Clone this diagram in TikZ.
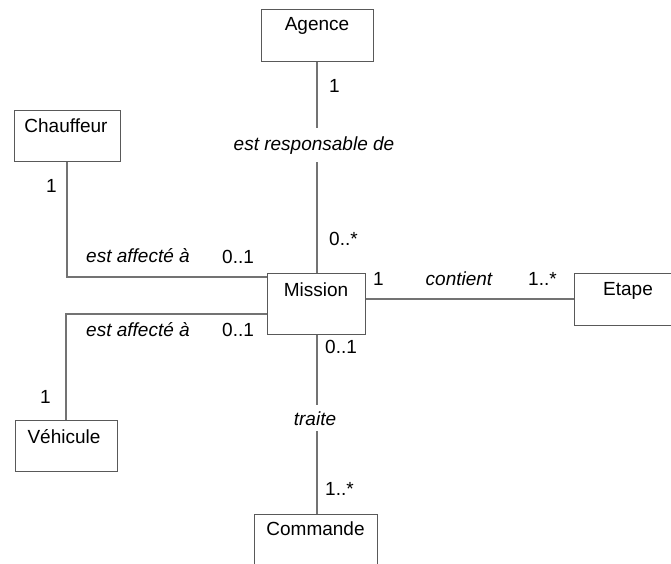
\documentclass[tikz,border=0pt]{standalone}
\usepackage{fontspec}
\setmainfont{Liberation Sans}
\begin{document}
\begin{tikzpicture}[x=1pt, y=-1pt,
  classbox/.style={draw=black!65, line width=1pt, fill=white, inner sep=0pt},
  classname/.style={anchor=base, inner sep=0pt, font=\fontsize{19}{22}\selectfont},
  assoc/.style={draw=black!55, line width=1.1pt},
  mult/.style={anchor=base west, inner sep=0pt, font=\fontsize{19}{22}\selectfont},
  role/.style={anchor=base, fill=white, inner sep=0pt, outer sep=0pt,
    font=\fontsize{19}{22}\selectfont\itshape},
  rolegap/.style={role, inner ysep=6pt, inner xsep=2pt}]
  \useasboundingbox (0,0) rectangle (671,564);

  % class boxes (empty attribute compartments)
  \node[classbox, minimum width=112pt, minimum height=52pt] (agence) at (317,36) {};
  \node[classbox, minimum width=106pt, minimum height=51pt] (chauffeur) at (67,136.5) {};
  \node[classbox, minimum width=98pt, minimum height=61pt] (mission) at (316,303.5) {};
  \node[classbox, minimum width=108pt, minimum height=52pt] (etape) at (628,299) {};
  \node[classbox, minimum width=102pt, minimum height=51pt] (vehicule) at (66,445.5) {};
  \node[classbox, minimum width=123pt, minimum height=66pt] (commande) at (315.5,547) {};

  % class names
  \node[classname] (agence-n) at (317,31) {Agence};
  \node[classname] (chauffeur-n) at (66,133) {Chauffeur};
  \node[classname] (mission-n) at (316,296) {Mission};
  \node[classname] (etape-n) at (628,295) {Etape};
  \node[classname] (vehicule-n) at (64,443) {Véhicule};
  \node[classname] (commande-n) at (315.5,535) {Commande};

  % association attachment heights on the left of Mission
  \coordinate (yA) at (0,277);
  \coordinate (yB) at (0,314);

  % associations
  \draw[assoc] (agence.south) -- (agence.south |- mission.north);
  \draw[assoc] (chauffeur.south) |- (mission.west |- yA);
  \draw[assoc] (vehicule.north) |- (mission.west |- yB);
  \draw[assoc] (etape.west -| mission.east) -- (etape.west);
  \draw[assoc] (mission.south -| agence.south) -- (commande.north -| agence.south);

  % association names
  \node[rolegap, inner ysep=8pt] (resp) at (314,150) {est responsable de};
  \node[rolegap] (traite) at (315,425) {traite};
  \node[role, fill=none] (aff1) at (138,262) {est affecté à};
  \node[role, fill=none] (aff2) at (138,336) {est affecté à};
  \node[role, fill=none] (cont) at (459,285) {contient};

  % multiplicities
  \node[mult] (m1) at (329,93) {1};
  \node[mult] (m2) at (329,245) {0..*};
  \node[mult] (m3) at (46,192) {1};
  \node[mult] (m4) at (222,263) {0..1};
  \node[mult] (m5) at (222,336) {0..1};
  \node[mult] (m6) at (40,403) {1};
  \node[mult] (m7) at (373,285) {1};
  \node[mult] (m8) at (528,285) {1..*};
  \node[mult] (m9) at (325,353) {0..1};
  \node[mult] (m10) at (325,495) {1..*};
\end{tikzpicture}
\end{document}
